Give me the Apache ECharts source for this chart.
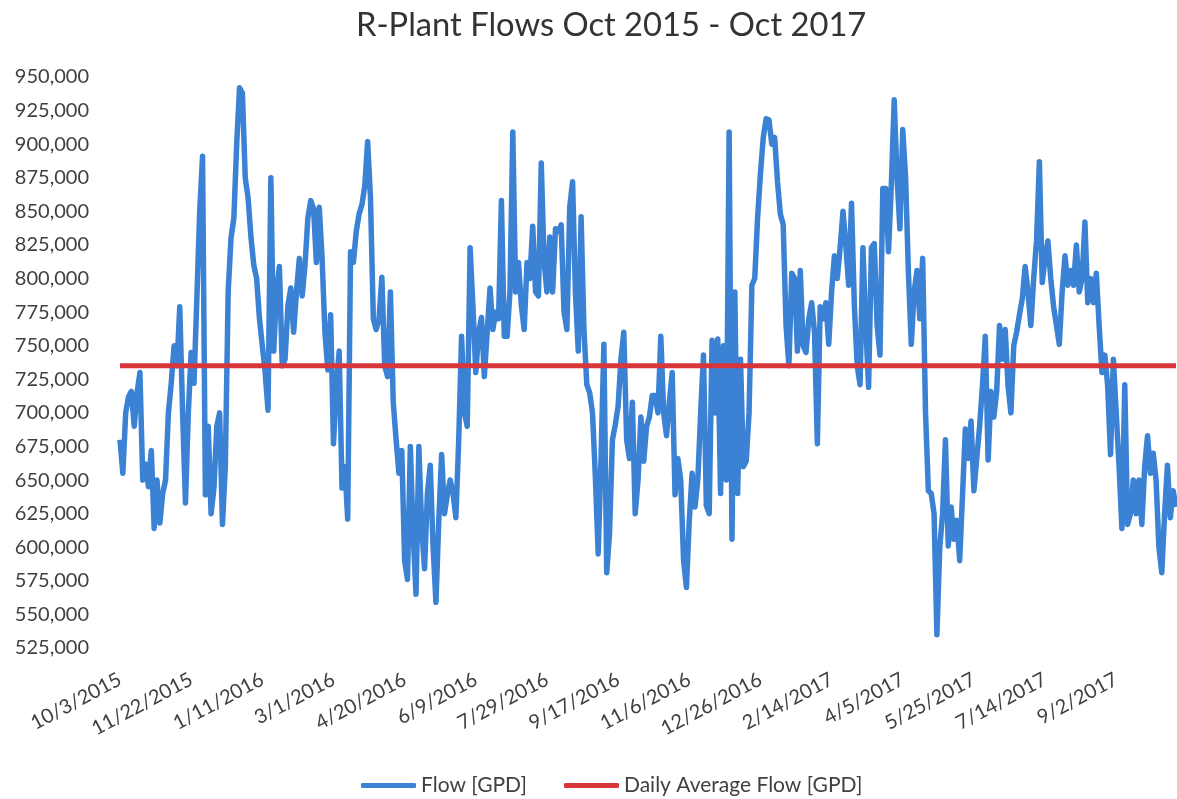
<!DOCTYPE html>
<html>
<head>
<meta charset="utf-8">
<title>R-Plant Flows Oct 2015 - Oct 2017</title>
<script src="https://cdn.jsdelivr.net/npm/echarts@6/dist/echarts.min.js"></script>
<style>
  html, body { margin: 0; padding: 0; background: #ffffff; }
  #chart { width: 1177px; height: 799px; }
</style>
</head>
<body>
<div id="chart"></div>
<script>
// Plant flow readings, one every two days starting 10/3/2015 (GPD)
const startDate = Date.UTC(2015, 9, 3);
const stepDays = 2;

const flow = [
  680000, 655000, 700000, 712000, 716000, 690000, 715000, 730000, 650000, 662000,
  645000, 672000, 614000, 650000, 618000, 640000, 650000, 700000, 722000, 750000,
  735000, 779000, 700000, 633000, 700000, 745000, 722000, 785000, 850000, 891000,
  639000, 690000, 625000, 644000, 690000, 700000, 617000, 660000, 790000, 830000,
  845000, 900000, 942000, 938000, 875000, 860000, 831000, 810000, 800000, 770000,
  750000, 730000, 702000, 875000, 746000, 790000, 809000, 735000, 740000, 780000,
  793000, 760000, 790000, 815000, 787000, 810000, 845000, 858000, 852000, 812000,
  853000, 815000, 760000, 732000, 773000, 677000, 720000, 746000, 644000, 660000,
  621000, 820000, 812000, 835000, 848000, 855000, 869000, 902000, 860000, 770000,
  762000, 770000, 801000, 735000, 727000, 790000, 708000, 680000, 655000, 672000,
  590000, 576000, 675000, 610000, 565000, 675000, 614000, 584000, 640000, 661000,
  600000, 559000, 620000, 669000, 625000, 639000, 650000, 640000, 622000, 680000,
  757000, 700000, 690000, 823000, 779000, 730000, 760000, 771000, 727000, 760000,
  793000, 762000, 775000, 770000, 858000, 757000, 757000, 790000, 909000, 790000,
  812000, 780000, 762000, 812000, 800000, 839000, 790000, 787000, 886000, 812000,
  790000, 831000, 790000, 837000, 835000, 840000, 775000, 762000, 853000, 872000,
  790000, 746000, 846000, 762000, 721000, 715000, 700000, 653000, 595000, 666000,
  751000, 581000, 611000, 680000, 691000, 705000, 740000, 760000, 680000, 666000,
  708000, 625000, 650000, 697000, 664000, 690000, 697000, 713000, 713000, 700000,
  757000, 700000, 683000, 708000, 730000, 639000, 666000, 650000, 590000, 570000,
  620000, 655000, 630000, 650000, 700000, 743000, 631000, 625000, 754000, 700000,
  755000, 640000, 750000, 650000, 909000, 606000, 790000, 640000, 740000, 660000,
  664000, 700000, 795000, 800000, 845000, 878000, 905000, 919000, 918000, 900000,
  905000, 872000, 848000, 840000, 765000, 735000, 804000, 800000, 746000, 806000,
  750000, 745000, 770000, 782000, 760000, 677000, 779000, 770000, 782000, 751000,
  790000, 817000, 800000, 823000, 850000, 825000, 795000, 856000, 780000, 735000,
  721000, 823000, 765000, 719000, 823000, 826000, 765000, 743000, 867000, 867000,
  820000, 870000, 933000, 875000, 837000, 911000, 875000, 804000, 751000, 790000,
  806000, 770000, 815000, 700000, 642000, 640000, 625000, 535000, 600000, 625000,
  680000, 601000, 630000, 606000, 620000, 590000, 639000, 688000, 666000, 694000,
  642000, 666000, 690000, 720000, 757000, 665000, 716000, 697000, 716000, 765000,
  740000, 762000, 720000, 700000, 750000, 760000, 773000, 785000, 809000, 790000,
  765000, 800000, 828000, 887000, 797000, 815000, 828000, 800000, 779000, 765000,
  751000, 790000, 817000, 795000, 806000, 795000, 825000, 790000, 800000, 842000,
  782000, 800000, 782000, 804000, 765000, 730000, 743000, 720000, 669000, 740000,
  700000, 660000, 614000, 721000, 617000, 625000, 650000, 625000, 650000, 617000,
  660000, 683000, 655000, 670000, 650000, 600000, 581000, 625000, 661000, 622000,
  642000, 630000
];

// Average daily flow over the whole period (GPD)
const dailyAverage = 735000;

// Date labels shown along the bottom, every 50 days
const tickLabels = [
  '10/3/2015', '11/22/2015', '1/11/2016', '3/1/2016', '4/20/2016',
  '6/9/2016', '7/29/2016', '9/17/2016', '11/6/2016', '12/26/2016',
  '2/14/2017', '4/5/2017', '5/25/2017', '7/14/2017', '9/2/2017'
];

const categories = flow.map((_, i) => {
  const d = new Date(startDate + i * stepDays * 86400000);
  return (d.getUTCMonth() + 1) + '/' + d.getUTCDate() + '/' + d.getUTCFullYear();
});

const textFont = 'Lato, "Open Sans", sans-serif';
const chart = echarts.init(document.getElementById('chart'), null, { renderer: 'canvas' });

chart.setOption({
  animation: false,
  backgroundColor: '#ffffff',
  title: {
    text: 'R-Plant Flows Oct 2015 - Oct 2017',
    left: 351,
    top: 4,
    textStyle: { fontFamily: textFont, fontSize: 32.7, fontWeight: 'normal', color: '#333333' }
  },
  legend: {
    top: 770,
    left: 356,
    itemWidth: 55,
    itemHeight: 5,
    itemGap: 37,
    icon: 'roundRect',
    textStyle: { fontFamily: textFont, fontSize: 21, color: '#404040' },
    data: ['Flow [GPD]', 'Daily Average Flow [GPD]']
  },
  grid: { left: 120, right: 1, top: 77, bottom: 151, containLabel: false },
  xAxis: {
    type: 'category',
    data: categories,
    boundaryGap: false,
    axisLine: { show: false },
    axisTick: { show: false },
    splitLine: { show: false },
    axisLabel: {
      interval: (index, value) => tickLabels.includes(value),
      rotate: 28,
      margin: 30,
      fontFamily: textFont,
      fontSize: 20,
      color: '#404040'
    }
  },
  yAxis: {
    type: 'value',
    min: 525000,
    max: 950000,
    interval: 25000,
    axisLine: { show: false },
    axisTick: { show: false },
    splitLine: { show: false },
    axisLabel: {
      margin: 31,
      fontFamily: textFont,
      fontSize: 20,
      color: '#404040',
      formatter: (v) => v.toLocaleString('en-US')
    }
  },
  series: [
    {
      name: 'Flow [GPD]',
      type: 'line',
      data: flow,
      showSymbol: false,
      symbol: 'none',
      color: '#3b82d4',
      lineStyle: { width: 5.5, color: '#3b82d4', join: 'round' },
      z: 2
    },
    {
      name: 'Daily Average Flow [GPD]',
      type: 'line',
      data: categories.map(() => dailyAverage),
      showSymbol: false,
      symbol: 'none',
      color: '#d8363a',
      lineStyle: { width: 5, color: '#d8363a' },
      z: 3
    }
  ]
});
</script>
</body>
</html>
